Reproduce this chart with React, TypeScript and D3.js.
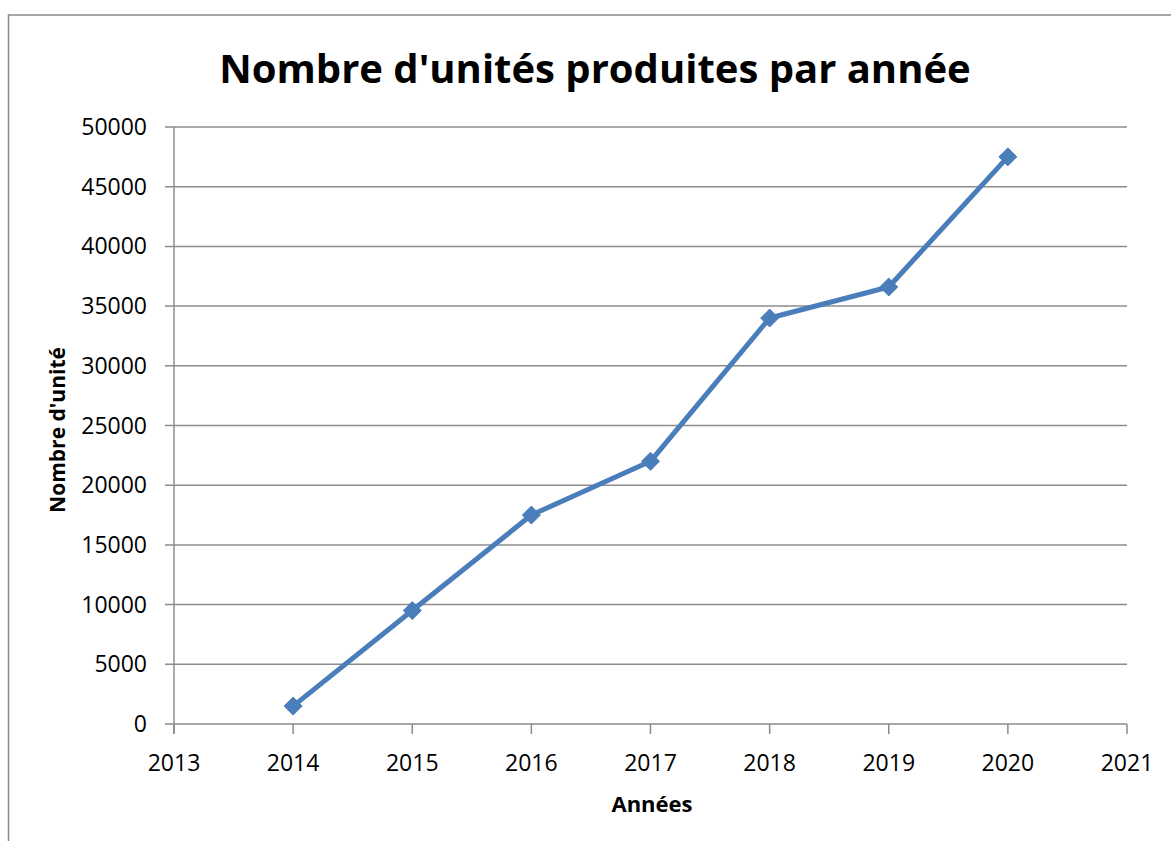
import React from "react";
import * as d3 from "d3";

const years = [2014, 2015, 2016, 2017, 2018, 2019, 2020];
const units = [1500, 9500, 17500, 22000, 34000, 36600, 47500];
const xTicks = [2013, 2014, 2015, 2016, 2017, 2018, 2019, 2020, 2021];
const yTicks = [0, 5000, 10000, 15000, 20000, 25000, 30000, 35000, 40000, 45000, 50000];
const title = "Nombre d'unités produites par année";
const xTitle = "Années";
const yTitle = "Nombre d'unité";

const W = 1171;
const H = 841;
const left = 174, right = 1127, top = 127, bottom = 724;
const FONT = "'Open Sans', sans-serif";

export default function App() {
  const x = d3.scaleLinear().domain([2013, 2021]).range([left, right]);
  const y = d3.scaleLinear().domain([0, 50000]).range([bottom, top]);
  const line = d3.line<number>().x((_, i) => x(years[i])).y((d) => y(d));
  const grid = "#8c8c8c";
  const blue = "#4a7ebb";
  const r = 9;
  return (
    <svg width={W} height={H} style={{ position: "absolute", left: 0, top: 0, background: "#fff" }}>
      <rect x={8.5} y={15} width={1300} height={1000} fill="#fff" stroke="#8a8a8a" strokeWidth={1.5} />
      <text x={595} y={83} textAnchor="middle" fontFamily={FONT} fontWeight="bold" fontSize={40} fill="#000">{title}</text>
      {yTicks.map((t) => (
        <g key={t}>
          <line x1={left - 9} x2={right} y1={y(t)} y2={y(t)} stroke={grid} strokeWidth={1.5} />
          <text x={147} y={y(t) + 8} textAnchor="end" fontFamily={FONT} fontSize={23} fill="#000">{t}</text>
        </g>
      ))}
      <line x1={left} x2={left} y1={top} y2={bottom + 10} stroke={grid} strokeWidth={1.5} />
      {xTicks.map((t) => (
        <g key={t}>
          <line x1={x(t)} x2={x(t)} y1={bottom} y2={bottom + 10} stroke={grid} strokeWidth={1.5} />
          <text x={x(t)} y={771} textAnchor="middle" fontFamily={FONT} fontSize={23} fill="#000">{t}</text>
        </g>
      ))}
      <text x={652} y={812} textAnchor="middle" fontFamily={FONT} fontWeight="bold" fontSize={22} fill="#000">{xTitle}</text>
      <text transform={`translate(65,430) rotate(-90)`} textAnchor="middle" fontFamily={FONT} fontWeight="bold" fontSize={21} fill="#000">{yTitle}</text>
      <path d={line(units) || ""} fill="none" stroke={blue} strokeWidth={5} strokeLinejoin="round" />
      {units.map((v, i) => {
        const cx = x(years[i]);
        const cy = y(v);
        return (
          <path key={i} d={`M${cx},${cy - r}L${cx + r},${cy}L${cx},${cy + r}L${cx - r},${cy}Z`} fill={blue} stroke={blue} strokeWidth={1} />
        );
      })}
    </svg>
  );
}
